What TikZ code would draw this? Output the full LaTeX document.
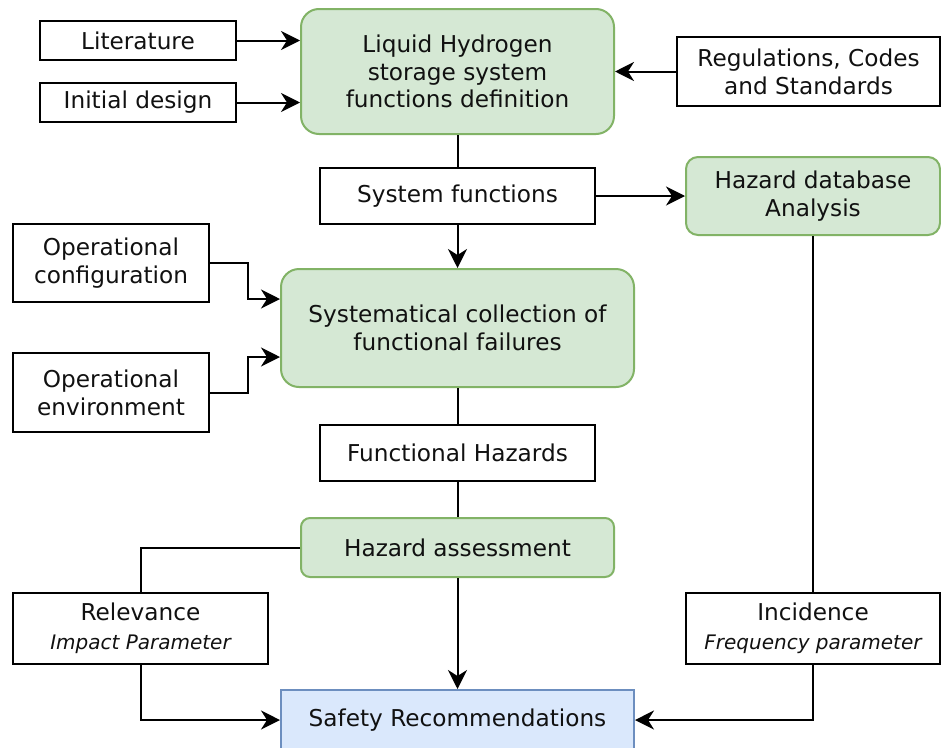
\documentclass[tikz,border=0pt]{standalone}
\usepackage{fontspec}
\setmainfont{DejaVu Sans}
\usetikzlibrary{arrows.meta}
\definecolor{gfill}{HTML}{D5E8D4}
\definecolor{gline}{HTML}{82B366}
\definecolor{bfill}{HTML}{DAE8FC}
\definecolor{bline}{HTML}{6C8EBF}
\definecolor{txt}{HTML}{111111}
\begin{document}
\begin{tikzpicture}[x=1pt,y=-1pt,
  every node/.style={font=\fontsize{23.2}{27.8}\selectfont, text=txt, align=center, inner sep=0pt},
  plainbox/.style={draw=black, line width=2pt, fill=white},
  greenbox/.style={draw=gline, line width=2pt, fill=gfill, rounded corners=#1},
  greenbox/.default=18pt,
  bluebox/.style={draw=bline, line width=2pt, fill=bfill},
  conn/.style={line width=2pt, draw=black},
  arr/.style={conn, -{Stealth[length=19pt,width=19pt,inset=6pt]}}
]
\useasboundingbox (0,0) rectangle (941,747);
\clip (0,0) rectangle (941,747);
\fill[white] (0,0) rectangle (941,747);

\node[plainbox, minimum width=196pt, minimum height=39pt] (lit) at (138,40.5) {Literature};
\node[plainbox, minimum width=196pt, minimum height=39pt] (ini) at (138,102.5) {Initial design};
\node[greenbox, minimum width=313pt, minimum height=125pt] (lh2) at (457.5,71.5) {Liquid Hydrogen\\storage system\\functions definition};
\node[plainbox, minimum width=263pt, minimum height=69pt] (reg) at (808.5,71.5) {Regulations, Codes\\and Standards};
\node[plainbox, minimum width=275pt, minimum height=56pt] (sf) at (457.5,196) {System functions};
\node[greenbox=12pt, minimum width=254pt, minimum height=78pt] (hdb) at (813,196) {Hazard database\\Analysis};
\node[plainbox, minimum width=196pt, minimum height=78pt] (oc) at (111,263) {Operational\\configuration};
\node[plainbox, minimum width=196pt, minimum height=79pt] (env) at (111,392.5) {Operational\\environment};
\node[greenbox, minimum width=353pt, minimum height=118pt] (sys) at (457.5,328) {Systematical collection of\\functional failures};
\node[plainbox, minimum width=275pt, minimum height=56pt] (fh) at (457.5,453) {Functional Hazards};
\node[greenbox=9pt, minimum width=313pt, minimum height=59pt] (ha) at (457.5,547.5) {Hazard assessment};
\node[plainbox, minimum width=255pt, minimum height=71pt] (rel) at (140.5,628.5) {Relevance\\[1pt]{\fontsize{20}{24}\selectfont\itshape Impact Parameter}};
\node[plainbox, minimum width=254pt, minimum height=71pt] (inc) at (813,628.5) {Incidence\\[1pt]{\fontsize{20}{24}\selectfont\itshape Frequency parameter}};
\node[bluebox, minimum width=353pt, minimum height=60pt] (saf) at (457.5,720) {Safety Recommendations};

\draw[arr] (lit.east) -- (lit.east -| lh2.west);
\draw[arr] (ini.east) -- (ini.east -| lh2.west);
\draw[arr] (reg.west) -- (reg.west -| lh2.east);
\draw[conn] (lh2.south) -- (sf.north);
\draw[arr] (sf.south) -- (sys.north);
\draw[arr] (sf.east) -- (sf.east -| hdb.west);
\draw[arr] (oc.east) -- ++(38,0) |- ([yshift=29pt]sys.west);
\draw[arr] (env.east) -- ++(38,0) |- ([yshift=-29pt]sys.west);
\draw[conn] (sys.south) -- (fh.north);
\draw[conn] (fh.south) -- (ha.north);
\draw[conn] (ha.west) -| (rel.north);
\draw[arr] (ha.south) -- (saf.north);
\draw[arr] (rel.south) |- (saf.west);
\draw[conn] (hdb.south) -- (inc.north);
\draw[arr] (inc.south) |- (saf.east);
\end{tikzpicture}
\end{document}
